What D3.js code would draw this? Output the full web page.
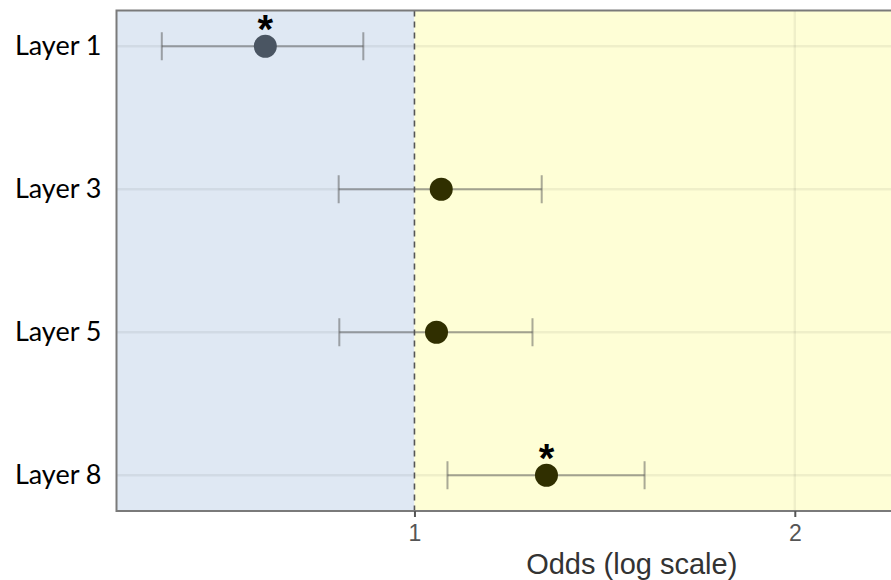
<!DOCTYPE html>
<html>
<head>
<meta charset="utf-8">
<script src="https://cdn.jsdelivr.net/npm/d3@7"></script>
<style>
html,body{margin:0;padding:0;background:#fff;}
svg{display:block;}
</style>
</head>
<body>
<svg id="chart" width="891" height="580"></svg>
<script>
// ---- data ----
const layers = ["Layer 1", "Layer 3", "Layer 5", "Layer 8"];
const odds   = [0.762, 1.050, 1.041, 1.272];
const lower  = [0.631, 0.871, 0.872, 1.062];
const upper  = [0.911, 1.261, 1.240, 1.521];
const significant = [true, false, false, true];
const xTicks = [1, 2];
const xLimits = [0.581, 3.80];
const refValue = 1;
const xTitle = "Odds (log scale)";

// ---- layout ----
const svg = d3.select("#chart");
const pLeft = 116.5, pRight = 1147, pTop = 10.5, pBottom = 511;

const x = d3.scaleLog().domain(xLimits).range([pLeft, pRight]);
const y = d3.scalePoint().domain(layers).range([pTop, pBottom]).padding(0.25);

const rows = layers.map((l, i) => ({layer: l, odds: odds[i], lo: lower[i], hi: upper[i], sig: significant[i]}));

// backgrounds
svg.append("rect").attr("x", pLeft).attr("y", pTop)
  .attr("width", x(refValue) - pLeft).attr("height", pBottom - pTop)
  .attr("fill", "#dfe8f3");
svg.append("rect").attr("x", x(refValue)).attr("y", pTop)
  .attr("width", pRight - x(refValue)).attr("height", pBottom - pTop)
  .attr("fill", "#fefed6");

// grid lines
const grid = svg.append("g");
grid.selectAll("line.h").data(layers).join("line")
  .attr("x1", pLeft).attr("x2", pRight)
  .attr("y1", d => y(d)).attr("y2", d => y(d))
  .attr("stroke", "#000").attr("stroke-opacity", 0.06).attr("stroke-width", 2.5);
grid.selectAll("line.v").data(xTicks.filter(t => t !== refValue)).join("line")
  .attr("x1", d => x(d)).attr("x2", d => x(d))
  .attr("y1", pTop).attr("y2", pBottom)
  .attr("stroke", "#000").attr("stroke-opacity", 0.06).attr("stroke-width", 2.5);

// reference dashed line
svg.append("line")
  .attr("x1", x(refValue)).attr("x2", x(refValue))
  .attr("y1", pTop).attr("y2", pBottom)
  .attr("stroke", "#555").attr("stroke-width", 1.6)
  .attr("stroke-dasharray", "6,5");

// error bars
const eb = svg.append("g");
eb.selectAll("line.ci").data(rows).join("line")
  .attr("x1", d => x(d.lo)).attr("x2", d => x(d.hi))
  .attr("y1", d => y(d.layer)).attr("y2", d => y(d.layer))
  .attr("stroke", "#555").attr("stroke-opacity", 0.5).attr("stroke-width", 2);
["lo", "hi"].forEach(k => {
  eb.append("g").selectAll("line").data(rows).join("line")
    .attr("x1", d => x(d[k])).attr("x2", d => x(d[k]))
    .attr("y1", d => y(d.layer) - 14).attr("y2", d => y(d.layer) + 14)
    .attr("stroke", "#555").attr("stroke-opacity", 0.5).attr("stroke-width", 2);
});

// points
svg.append("g").selectAll("circle").data(rows).join("circle")
  .attr("cx", d => x(d.odds)).attr("cy", d => y(d.layer)).attr("r", 11.5)
  .attr("fill", d => d.odds < refValue ? "#4a5562" : "#302f00");

// asterisks
svg.append("g").selectAll("text").data(rows.filter(d => d.sig)).join("text")
  .attr("x", d => x(d.odds)).attr("y", d => y(d.layer) - 3)
  .attr("text-anchor", "middle")
  .attr("font-family", "Liberation Sans, Arial, sans-serif")
  .attr("font-weight", "bold").attr("font-size", 40)
  .attr("fill", "#000").text("*");

// panel border
svg.append("rect").attr("x", pLeft).attr("y", pTop)
  .attr("width", pRight - pLeft).attr("height", pBottom - pTop)
  .attr("fill", "none").attr("stroke", "#7a7a7a").attr("stroke-width", 2);

// x axis
const xAxis = d3.axisBottom(x).tickValues(xTicks).tickFormat(d3.format("d")).tickSize(6).tickPadding(8);
const gx = svg.append("g").attr("transform", `translate(0,${pBottom})`).call(xAxis);
gx.select(".domain").remove();
gx.selectAll(".tick line").attr("stroke", "#555").attr("stroke-width", 2);
gx.selectAll(".tick text").attr("fill", "#555")
  .attr("font-family", "Liberation Sans, Arial, sans-serif").attr("font-size", 23);

// y labels
const yAxis = d3.axisLeft(y).tickSize(0).tickPadding(15);
const gy = svg.append("g").attr("transform", `translate(${pLeft},0)`).call(yAxis);
gy.select(".domain").remove();
gy.selectAll(".tick text").attr("fill", "#000")
  .attr("font-family", "Lato, sans-serif").attr("font-size", 27);

// axis title
svg.append("text")
  .attr("x", (pLeft + pRight) / 2).attr("y", 574)
  .attr("text-anchor", "middle")
  .attr("font-family", "Liberation Sans, Arial, sans-serif")
  .attr("font-size", 29).attr("fill", "#333")
  .text(xTitle);
</script>
</body>
</html>
